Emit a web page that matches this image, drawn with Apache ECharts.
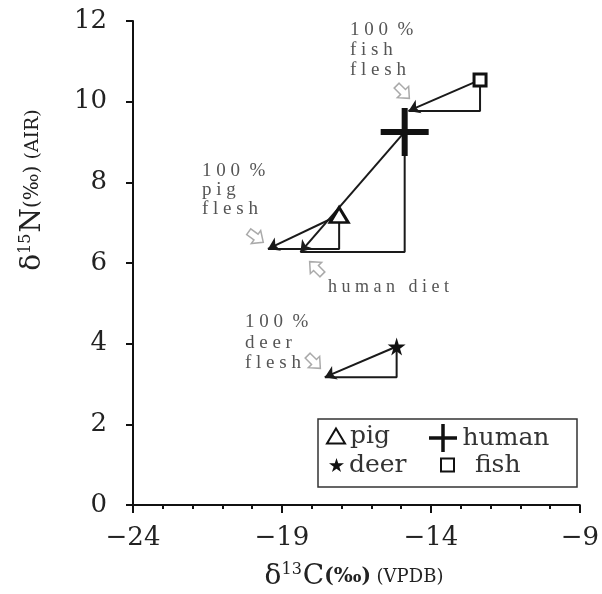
<!DOCTYPE html>
<html>
<head>
<meta charset="utf-8">
<script src="https://cdn.jsdelivr.net/npm/echarts@6/dist/echarts.min.js"></script>
<style>
  html, body { margin: 0; padding: 0; background: #fff; }
  #chart { width: 602px; height: 594px; }
</style>
</head>
<body>
<div id="chart"></div>
<script>
// 各物种同位素值
const species = ['pig', 'human', 'deer', 'fish'];
const d13C = [-17.08, -14.88, -15.15, -12.35];
const d15N = [7.19, 9.25, 3.93, 10.54];
// 箭头终点（100% flesh / human diet）
const endC = [-19.47, -18.38, -17.56, -14.75];
const endN = [6.35, 6.27, 3.17, 9.77];

const xTicks = [-24, -19, -14, -9];
const yTicks = [0, 2, 4, 6, 8, 10, 12];

const SERIF = '"DejaVu Serif", serif';
const STAR = 'path://M50,0 L61,35 L98,35 L68,57 L79,91 L50,70 L21,91 L32,57 L2,35 L39,35 Z';
const CROSS = 'path://M21,0 h6 v21 h21 v6 h-21 v21 h-6 v-21 h-21 v-6 h21 z';

const symbols = {
  pig: { symbol: 'triangle', size: [18, 15], style: { color: '#fff', borderColor: '#111', borderWidth: 3, opacity: 1 } },
  human: { symbol: CROSS, size: 48, style: { color: '#111', opacity: 1 } },
  deer: { symbol: STAR, size: 18, style: { color: '#111', opacity: 1 } },
  fish: { symbol: 'rect', size: 12, style: { color: '#fff', borderColor: '#111', borderWidth: 3, opacity: 1 } }
};

const lineStyle = { color: '#1a1a1a', width: 2 };

const series = [];
species.forEach((name, i) => {
  // 直角边
  series.push({
    type: 'line',
    name: name + '-leg',
    data: [[d13C[i], d15N[i]], [d13C[i], endN[i]], [endC[i], endN[i]]],
    symbol: 'none',
    lineStyle: lineStyle,
    silent: true,
    z: 2
  });
  // 斜边箭头
  series.push({
    type: 'lines',
    name: name + '-arrow',
    coordinateSystem: 'cartesian2d',
    symbol: ['none', 'arrow'],
    symbolSize: [7, 11],
    lineStyle: { color: '#1a1a1a', width: 2, opacity: 1 },
    data: [{ coords: [[d13C[i], d15N[i]], [endC[i], endN[i]]] }],
    silent: true,
    z: 3
  });
});
species.forEach((name, i) => {
  const s = symbols[name];
  series.push({
    type: 'scatter',
    name: name,
    data: [[d13C[i], d15N[i]]],
    symbol: s.symbol,
    symbolSize: s.size,
    itemStyle: s.style,
    z: 5
  });
});

// 图例，每项一个 legend 方便定位
function legendItem(name, left, top, w, h, icon, fmt) {
  return {
    data: [{ name: name, icon: icon }],
    left: left, top: top,
    padding: 0,
    itemWidth: w, itemHeight: h,
    selectedMode: false,
    formatter: fmt || '{name}',
    textStyle: { fontFamily: SERIF, fontSize: 25, color: '#333', lineHeight: 28 }
  };
}
const legends = [
  legendItem('pig', 326, 422, 18, 15, 'triangle'),
  legendItem('human', 429, 424, 29, 28, CROSS),
  legendItem('deer', 329, 451, 15, 15, STAR),
  legendItem('fish', 440, 451, 13, 13, 'rect', '  {name}')
];

function arrowShape(cx, cy, rot) {
  return {
    type: 'polygon',
    x: cx, y: cy, rotation: rot,
    shape: { points: [[-9, -3.5], [0, -3.5], [0, -8], [9, 0], [0, 8], [0, 3.5], [-9, 3.5]] },
    style: { fill: '#fff', stroke: '#aaa', lineWidth: 1.5 },
    z: 10
  };
}
function note(text, x, y, lh, size) {
  return {
    type: 'text', x: x, y: y, z: 10,
    style: {
      text: text, fill: '#555', font: (size || 19) + 'px "Liberation Serif", serif',
      lineHeight: lh, textVerticalAlign: 'top'
    }
  };
}

const axisLineStyle = { color: '#111', width: 2 };
const chart = echarts.init(document.getElementById('chart'), null, { renderer: 'canvas' });
chart.setOption({
  backgroundColor: '#fff',
  animation: false,
  grid: { left: 133, right: 15, top: 21, bottom: 89 },
  xAxis: [
    {
      // 主刻度 + 标签
      type: 'value', min: xTicks[0], max: xTicks[xTicks.length - 1], interval: 5,
      splitLine: { show: false },
      axisLine: { onZero: false, lineStyle: axisLineStyle },
      axisTick: { length: 8, lineStyle: axisLineStyle },
      axisLabel: {
        margin: 20, fontFamily: SERIF, fontSize: 26, color: '#222',
        formatter: v => (v < 0 ? '\u2212' : '') + Math.abs(v)
      }
    },
    {
      // 次刻度
      type: 'value', min: xTicks[0], max: xTicks[xTicks.length - 1], interval: 1,
      position: 'bottom', offset: 0,
      splitLine: { show: false },
      axisLine: { show: false },
      axisTick: { length: 4, lineStyle: axisLineStyle },
      axisLabel: { show: false }
    }
  ],
  yAxis: {
    type: 'value', min: yTicks[0], max: yTicks[yTicks.length - 1], interval: 2,
    splitLine: { show: false },
    axisLine: { onZero: false, lineStyle: axisLineStyle },
    axisTick: { length: 7, lineStyle: axisLineStyle },
    axisLabel: { margin: 26, fontFamily: SERIF, fontSize: 26, color: '#222' }
  },
  legend: legends,
  graphic: [
    {
      type: 'rect', z: 1,
      shape: { x: 318, y: 419, width: 259, height: 68 },
      style: { fill: 'none', stroke: '#333', lineWidth: 1.5 }
    },
    // x 轴标题
    {
      type: 'text', x: 354, y: 577, z: 10,
      style: {
        text: '{d|δ}{s|13}{c|C}{p|(‰)}{v| (VPDB)}',
        textAlign: 'center', textVerticalAlign: 'middle', fill: '#222',
        rich: {
          d: { fontFamily: SERIF, fontSize: 28, fill: '#222' },
          s: { fontFamily: SERIF, fontSize: 16, fill: '#222', verticalAlign: 'top', padding: [0, 1, 15, 0] },
          c: { fontFamily: SERIF, fontSize: 28, fill: '#222' },
          p: { fontFamily: SERIF, fontSize: 20, fontWeight: 'bold', fill: '#222' },
          v: { fontFamily: SERIF, fontSize: 18, fill: '#222' }
        }
      }
    },
    // y 轴标题
    {
      type: 'text', x: 33, y: 190, rotation: Math.PI / 2, z: 10,
      style: {
        text: '{d|δ}{s|15}{c|N}{p|(‰)}{v| (AIR)}',
        textAlign: 'center', textVerticalAlign: 'middle', fill: '#222',
        rich: {
          d: { fontFamily: SERIF, fontSize: 28, fill: '#222' },
          s: { fontFamily: SERIF, fontSize: 16, fill: '#222', verticalAlign: 'top', padding: [0, 1, 15, 0] },
          c: { fontFamily: SERIF, fontSize: 28, fill: '#222' },
          p: { fontFamily: SERIF, fontSize: 20, fill: '#222' },
          v: { fontFamily: SERIF, fontSize: 19, fill: '#222' }
        }
      }
    },
    note('1 0 0  %\nf i s h\nf l e s h', 350, 20, 20),
    note('1 0 0  %\np i g\nf l e s h', 202, 162, 19),
    note('h u m a n   d i e t', 328, 277, 20, 18),
    note('1 0 0  %\nd e e r\nf l e s h', 245, 312, 20.5),
    arrowShape(403, 92, -Math.PI / 4),
    arrowShape(256, 237, -Math.PI / 5),
    arrowShape(316, 268, Math.PI * 3 / 4),
    arrowShape(314, 362, -Math.PI / 4)
  ],
  series: series
});
</script>
</body>
</html>
